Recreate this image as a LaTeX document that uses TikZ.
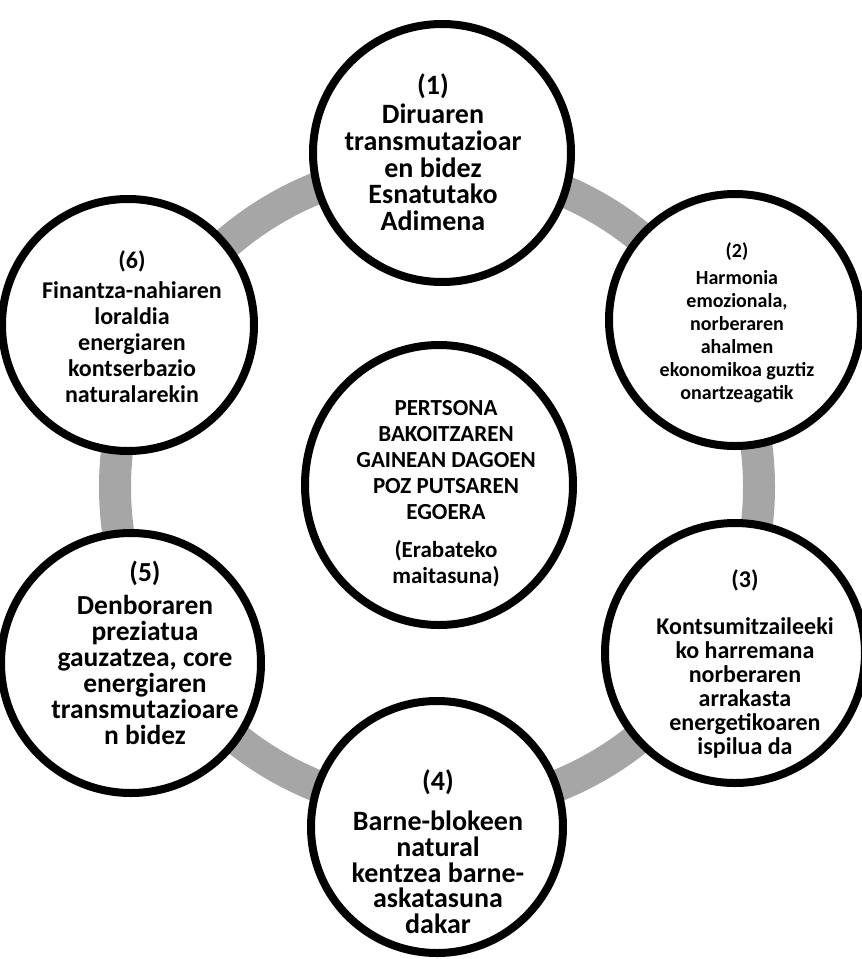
\documentclass[tikz,border=0pt]{standalone}
\usepackage{fontspec}
\usetikzlibrary{shapes.geometric}
\setmainfont{Carlito}
\definecolor{ringgray}{RGB}{166,166,166}
\begin{document}
\begin{tikzpicture}[x=1pt,y=-1pt,
  bubble/.style={circle,draw=black,line width=8pt,fill=white,inner sep=0pt},
  hubbubble/.style={ellipse,draw=black,line width=8pt,fill=white,inner sep=0pt},
  ring/.style={draw=ringgray,line width=32pt},
  lbl/.style={align=center,inner sep=0pt,text=black}]
\useasboundingbox (0,0) rectangle (862,959);

% grey cycle ring behind the bubbles
\coordinate (hub) at (437,487);
\draw[ring] (hub) circle[radius=322pt];

% bubbles
\node[bubble,minimum size=258pt] (c1) at (442,153) {};
\node[bubble,minimum size=252pt] (c2) at (735,320) {};
\node[bubble,minimum size=260pt] (c3) at (735,653) {};
\node[bubble,minimum size=252pt] (c4) at (437,827) {};
\node[bubble,minimum size=260pt] (c5) at (131,663) {};
\node[bubble,minimum size=252pt] (c6) at (128,325) {};
\node[hubbubble,minimum width=268pt,minimum height=280pt] (c0) at (439,485) {};

% texts
\node[lbl,font=\bfseries\fontsize{28}{26.7}\selectfont] (t1) at (433,152)
  {(1)\\[3pt]Diruaren\\transmutazioar\\en bidez\\Esnatutako\\Adimena};
\node[lbl,font=\bfseries\fontsize{20}{23}\selectfont] (t2) at (737,323)
  {(2)\\[4pt]Harmonia\\emozionala,\\norberaren\\ahalmen\\ekonomikoa guztiz\\onartzeagatik};
\node[lbl,font=\bfseries\fontsize{24}{24}\selectfont] (t3) at (745,664)
  {(3)\\[23pt]Kontsumitzaileeki\\ko harremana\\norberaren\\arrakasta\\energetikoaren\\ispilua da};
\node[lbl,font=\bfseries\fontsize{28}{25.8}\selectfont] (t4) at (438,852)
  {(4)\\[14pt]Barne-blokeen\\natural\\kentzea barne-\\askatasuna\\dakar};
\node[lbl,font=\bfseries\fontsize{27.5}{26}\selectfont] (t5) at (145,653)
  {(5)\\[7pt]Denboraren\\preziatua\\gauzatzea, core\\energiaren\\transmutazioare\\n bidez};
\node[lbl,font=\bfseries\fontsize{24}{26}\selectfont] (t6) at (132,327)
  {(6)\\[4pt]Finantza-nahiaren\\loraldia\\energiaren\\kontserbazio\\naturalarekin};
\node[lbl,font=\bfseries\fontsize{23}{26}\selectfont] (t0) at (446,494)
  {PERTSONA\\BAKOITZAREN\\GAINEAN DAGOEN\\POZ PUTSAREN\\EGOERA\\[12pt](Erabateko\\maitasuna)};
\end{tikzpicture}
\end{document}
